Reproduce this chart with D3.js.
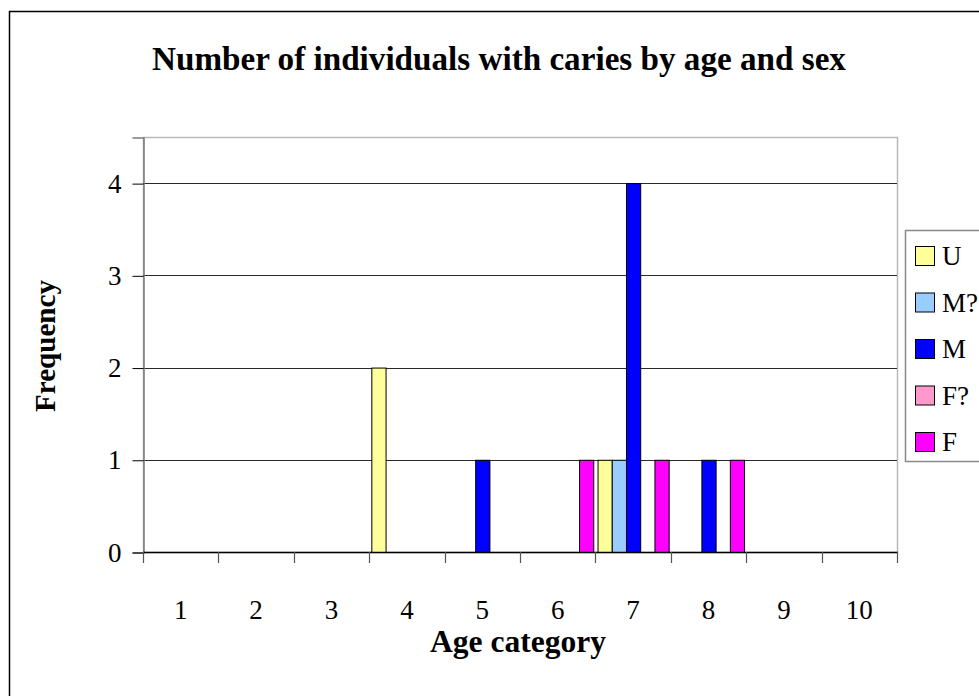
<!DOCTYPE html>
<html>
<head>
<meta charset="utf-8">
<script src="https://cdn.jsdelivr.net/npm/d3@7"></script>
<style>
  html, body { margin: 0; padding: 0; background: #fff; }
  svg { display: block; }
  text { font-family: "Liberation Serif", "DejaVu Serif", serif; fill: #000; }
</style>
</head>
<body>
<svg id="chart" width="979" height="696"></svg>
<script>
// Age categories along the x axis
const categories = ["1", "2", "3", "4", "5", "6", "7", "8", "9", "10"];
// Sex groups, in legend / bar order
const seriesNames = ["U", "M?", "M", "F?", "F"];
const seriesColors = ["#FFFF99", "#99CCFF", "#0000FF", "#FF99CC", "#FF00FF"];
// Counts of individuals with caries per age category
const valuesU  = [0, 0, 0, 2, 0, 0, 1, 0, 0, 0];
const valuesMq = [0, 0, 0, 0, 0, 0, 1, 0, 0, 0];
const valuesM  = [0, 0, 0, 0, 1, 0, 4, 1, 0, 0];
const valuesFq = [0, 0, 0, 0, 0, 0, 0, 0, 0, 0];
const valuesF  = [0, 0, 0, 0, 0, 1, 1, 1, 0, 0];
const yTicks = [0, 1, 2, 3, 4];

const seriesValues = [valuesU, valuesMq, valuesM, valuesFq, valuesF];
const series = seriesNames.map((name, i) => ({
  name, color: seriesColors[i],
  values: categories.map((c, j) => ({ cat: c, v: seriesValues[i][j] }))
}));

const svg = d3.select("#chart");
const plot = { left: 143, right: 897, top: 137, bottom: 552 };
const tickFont = 27;

// scale a text element's font so it spans the given width
function fitWidth(sel, target) {
  const node = sel.node();
  const size = parseFloat(sel.attr("font-size"));
  const len = node.getComputedTextLength();
  if (len > 0) sel.attr("font-size", (size * target / len).toFixed(2));
  return sel;
}

// outer chart frame
svg.append("rect")
  .attr("x", 9.5).attr("y", 11.5)
  .attr("width", 1000).attr("height", 1000)
  .attr("fill", "#fff").attr("stroke", "#000").attr("stroke-width", 1.5);

const x = d3.scaleBand().domain(categories)
  .range([plot.left, plot.right]).paddingInner(0).paddingOuter(0);
// 150% gap width between groups
const inner = d3.scaleBand().domain(seriesNames)
  .range([0, x.bandwidth()]).paddingInner(0).paddingOuter(0.15);
const y = d3.scaleLinear().domain([0, 4.5]).range([plot.bottom, plot.top]);

// plot area border
svg.append("rect")
  .attr("x", plot.left + 0.5).attr("y", plot.top + 0.5)
  .attr("width", plot.right - plot.left).attr("height", plot.bottom - plot.top)
  .attr("fill", "none").attr("stroke", "#b8b8b8").attr("stroke-width", 1.5);

// horizontal gridlines
svg.append("g").selectAll("line")
  .data(yTicks.filter(t => t > 0))
  .join("line")
  .attr("x1", plot.left).attr("x2", plot.right)
  .attr("y1", d => Math.round(y(d)) + 0.5).attr("y2", d => Math.round(y(d)) + 0.5)
  .attr("stroke", "#2a2a2a").attr("stroke-width", 1.2);

// bars
const groups = svg.append("g").selectAll("g")
  .data(series).join("g")
  .attr("fill", d => d.color);
groups.each(function (s) {
  d3.select(this).selectAll("rect")
    .data(s.values.filter(d => d.v > 0))
    .join("rect")
    .attr("x", d => x(d.cat) + inner(s.name) + 0.5)
    .attr("width", inner.bandwidth())
    .attr("y", d => y(d.v) + 0.5)
    .attr("height", d => y(0) - y(d.v))
    .attr("stroke", "#000").attr("stroke-width", 1);
});

// y axis
const yAxis = d3.axisLeft(y).tickValues(yTicks).tickSize(11).tickPadding(11)
  .tickFormat(d3.format("d"));
const gy = svg.append("g").attr("transform", `translate(${plot.left + 0.5},0.5)`).call(yAxis);
gy.select(".domain").attr("stroke", "#7a7a7a").attr("stroke-width", 1.5);
gy.selectAll(".tick line").attr("stroke", "#000");
gy.selectAll(".tick text").attr("font-size", tickFont).attr("font-family", "Liberation Serif");

// x axis: ticks sit on category boundaries, labels centred below
const boundaries = d3.range(categories.length + 1).map(i => plot.left + i * x.step());
const gx = svg.append("g");
gx.append("line")
  .attr("x1", plot.left).attr("x2", plot.right + 1)
  .attr("y1", plot.bottom + 0.5).attr("y2", plot.bottom + 0.5)
  .attr("stroke", "#000").attr("stroke-width", 1.5);
gx.selectAll("line.tk").data(boundaries).join("line").attr("class", "tk")
  .attr("x1", d => Math.round(d) + 0.5).attr("x2", d => Math.round(d) + 0.5)
  .attr("y1", plot.bottom).attr("y2", plot.bottom + 11)
  .attr("stroke", "#555").attr("stroke-width", 1.2);
gx.selectAll("text").data(categories).join("text")
  .attr("x", d => x(d) + x.bandwidth() / 2)
  .attr("y", 619)
  .attr("text-anchor", "middle")
  .attr("font-size", tickFont)
  .text(d => d);

// titles
fitWidth(svg.append("text")
  .attr("x", 499).attr("y", 70)
  .attr("text-anchor", "middle")
  .attr("font-size", 25).attr("font-weight", "bold")
  .text("Number of individuals with caries by age and sex"), 694);
fitWidth(svg.append("text")
  .attr("x", 518).attr("y", 652)
  .attr("text-anchor", "middle")
  .attr("font-size", 24).attr("font-weight", "bold")
  .text("Age category"), 176);
fitWidth(svg.append("text")
  .attr("transform", "translate(55,346) rotate(-90)")
  .attr("text-anchor", "middle")
  .attr("font-size", 24).attr("font-weight", "bold")
  .text("Frequency"), 132);

// legend
const legend = svg.append("g");
legend.append("rect")
  .attr("x", 905.5).attr("y", 230.5).attr("width", 120).attr("height", 231)
  .attr("fill", "#fff").attr("stroke", "#888").attr("stroke-width", 1.5);
const items = legend.selectAll("g.item").data(series).join("g").attr("class", "item")
  .attr("transform", (d, i) => `translate(0,${256 + i * 46.5})`);
items.append("rect")
  .attr("x", 915.5).attr("y", -9.5).attr("width", 19).attr("height", 19)
  .attr("fill", d => d.color).attr("stroke", "#000").attr("stroke-width", 1);
items.append("text")
  .attr("x", 942).attr("y", 9)
  .attr("font-size", tickFont)
  .text(d => d.name);
</script>
</body>
</html>
